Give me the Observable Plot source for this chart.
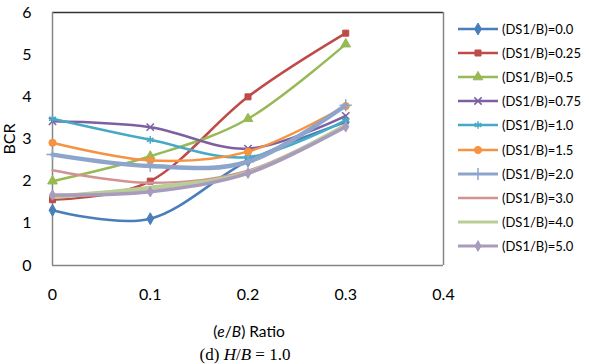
<!DOCTYPE html>
<html>
<head>
<meta charset="utf-8">
<script src="https://cdn.jsdelivr.net/npm/d3@7"></script>
<script src="https://cdn.jsdelivr.net/npm/@observablehq/plot@0.6"></script>
<style>
  body { margin: 0; background: #fff; }
  #chart { position: relative; width: 589px; height: 364px; font-family: Lato, "Open Sans", sans-serif; color: #000; overflow: hidden; }
  #chart > svg { position: absolute; left: 0; top: 0; }
  .xlabel { position: absolute; left: 169px; width: 160px; top: 322px; text-align: center; font-size: 15.5px; }
  .caption { position: absolute; left: 155px; width: 180px; top: 345px; text-align: center; font-family: "Liberation Serif", "DejaVu Serif", serif; font-size: 17px; }
  .legend { position: absolute; left: 458px; top: 17px; }
  .legend .row { display: flex; align-items: center; height: 24.1px; font-size: 13px; white-space: nowrap; }
  .legend svg { display: block; margin-right: 4px; }
</style>
</head>
<body>
<div id="chart"></div>
<script>
// e/B ratios on the x axis
const ratios = [0, 0.1, 0.2, 0.3];
const xTicks = [0, 0.1, 0.2, 0.3, 0.4];
const yTicks = [0, 1, 2, 3, 4, 5, 6];

// series names (DS1/B)
const seriesNames = [
  "(DS1/B)=0.0", "(DS1/B)=0.25", "(DS1/B)=0.5", "(DS1/B)=0.75", "(DS1/B)=1.0",
  "(DS1/B)=1.5", "(DS1/B)=2.0", "(DS1/B)=3.0", "(DS1/B)=4.0", "(DS1/B)=5.0"
];

// BCR values for each series, one value per ratio
const bcr00 = [1.31, 1.11, 2.48, 3.40];
const bcr025 = [1.56, 2.00, 4.00, 5.51];
const bcr05 = [2.00, 2.59, 3.48, 5.25];
const bcr075 = [3.42, 3.28, 2.77, 3.55];
const bcr10 = [3.48, 2.98, 2.57, 3.45];
const bcr15 = [2.91, 2.49, 2.70, 3.78];
const bcr20 = [2.63, 2.36, 2.46, 3.80];
const bcr30 = [2.26, 1.96, 2.25, 3.32];
const bcr40 = [1.63, 1.84, 2.20, 3.32];
const bcr50 = [1.67, 1.75, 2.19, 3.29];
const seriesValues = [bcr00, bcr025, bcr05, bcr075, bcr10, bcr15, bcr20, bcr30, bcr40, bcr50];

// styling per series
const colors = ["#4A7EBB", "#BE4B48", "#98B954", "#7D60A0", "#46AAC5", "#F69240", "#8EA5CB", "#D09392", "#B9CD96", "#A99BBD"];
const markers = ["diamond", "square", "triangle", "times", "asterisk", "circle", "plus", null, null, "diamond"];
const lineWidths = [2.5, 2.5, 2.5, 2.5, 2.5, 2.5, 4.5, 2.5, 4.5, 3.5];
const markerSizes = [3.6, 3.4, 3.6, 3.4, 3.6, 3.6, 4, 0, 0, 3.2];

const rows = seriesNames.flatMap((name, i) =>
  ratios.map((r, j) => ({series: name, idx: i, ratio: r, bcr: seriesValues[i][j]}))
);

const strokeOnly = s => ["times", "asterisk", "plus"].includes(s);

const lineMarks = seriesNames.flatMap((name, i) => {
  const data = rows.filter(d => d.idx === i);
  const marks = [
    Plot.line(data, {x: "ratio", y: "bcr", stroke: colors[i], strokeWidth: lineWidths[i], curve: "cardinal"})
  ];
  if (markers[i]) {
    const so = strokeOnly(markers[i]);
    marks.push(Plot.dot(data, {
      x: "ratio", y: "bcr", symbol: () => markers[i], r: markerSizes[i],
      fill: so ? "none" : colors[i],
      stroke: colors[i], strokeWidth: so ? 1.5 : 1
    }));
  }
  return marks;
});

const plot = Plot.plot({
  width: 589,
  height: 340,
  marginLeft: 52,
  marginRight: 146,
  marginTop: 12,
  marginBottom: 75,
  style: {fontFamily: "Lato, 'Open Sans', sans-serif", background: "#fff", overflow: "visible"},
  x: {domain: [0, 0.4]},
  y: {domain: [0, 6]},
  marks: [
    Plot.axisX({ticks: xTicks, tickSize: 0, tickPadding: 23, fontSize: 16, tickFormat: d => String(d), label: null}),
    Plot.axisY({ticks: yTicks, tickSize: 0, tickPadding: 21, fontSize: 16, tickFormat: d => String(d), label: "BCR",
      labelAnchor: "center", labelArrow: "none"}),
    Plot.ruleY([6], {stroke: "#333", strokeWidth: 1.5}),
    Plot.ruleX([0.4], {stroke: "#868686", strokeWidth: 1.5}),
    Plot.ruleX([0], {stroke: "#868686", strokeWidth: 1.5}),
    Plot.ruleY([0], {stroke: "#868686", strokeWidth: 1.5}),
    ...lineMarks
  ]
});

const chart = document.getElementById("chart");
chart.appendChild(plot);

// axis title and caption
const xl = document.createElement("div");
xl.className = "xlabel";
xl.innerHTML = "(<i>e</i>/<i>B</i>) Ratio";
chart.appendChild(xl);

const cap = document.createElement("div");
cap.className = "caption";
cap.innerHTML = "(d) <i>H</i>/<i>B</i> = 1.0";
chart.appendChild(cap);

// legend
const symbolTypes = {
  diamond: d3.symbolDiamond, square: d3.symbolSquare, triangle: d3.symbolTriangle,
  times: d3.symbolTimes, asterisk: d3.symbolAsterisk, circle: d3.symbolCircle, plus: d3.symbolPlus
};
const legend = document.createElement("div");
legend.className = "legend";
seriesNames.forEach((name, i) => {
  const row = document.createElement("div");
  row.className = "row";
  const svg = d3.create("svg").attr("width", 40).attr("height", 14);
  svg.append("line").attr("x1", 0).attr("x2", 40).attr("y1", 7).attr("y2", 7)
    .attr("stroke", colors[i]).attr("stroke-width", Math.min(lineWidths[i], 3));
  if (markers[i]) {
    const so = strokeOnly(markers[i]);
    const size = Math.PI * markerSizes[i] * markerSizes[i];
    svg.append("path")
      .attr("d", d3.symbol(symbolTypes[markers[i]], size)())
      .attr("transform", "translate(20,7)")
      .attr("fill", so ? "none" : colors[i])
      .attr("stroke", colors[i]).attr("stroke-width", so ? 1.5 : 1);
  }
  row.appendChild(svg.node());
  const label = document.createElement("span");
  label.textContent = name;
  row.appendChild(label);
  legend.appendChild(row);
});
chart.appendChild(legend);
</script>
</body>
</html>
